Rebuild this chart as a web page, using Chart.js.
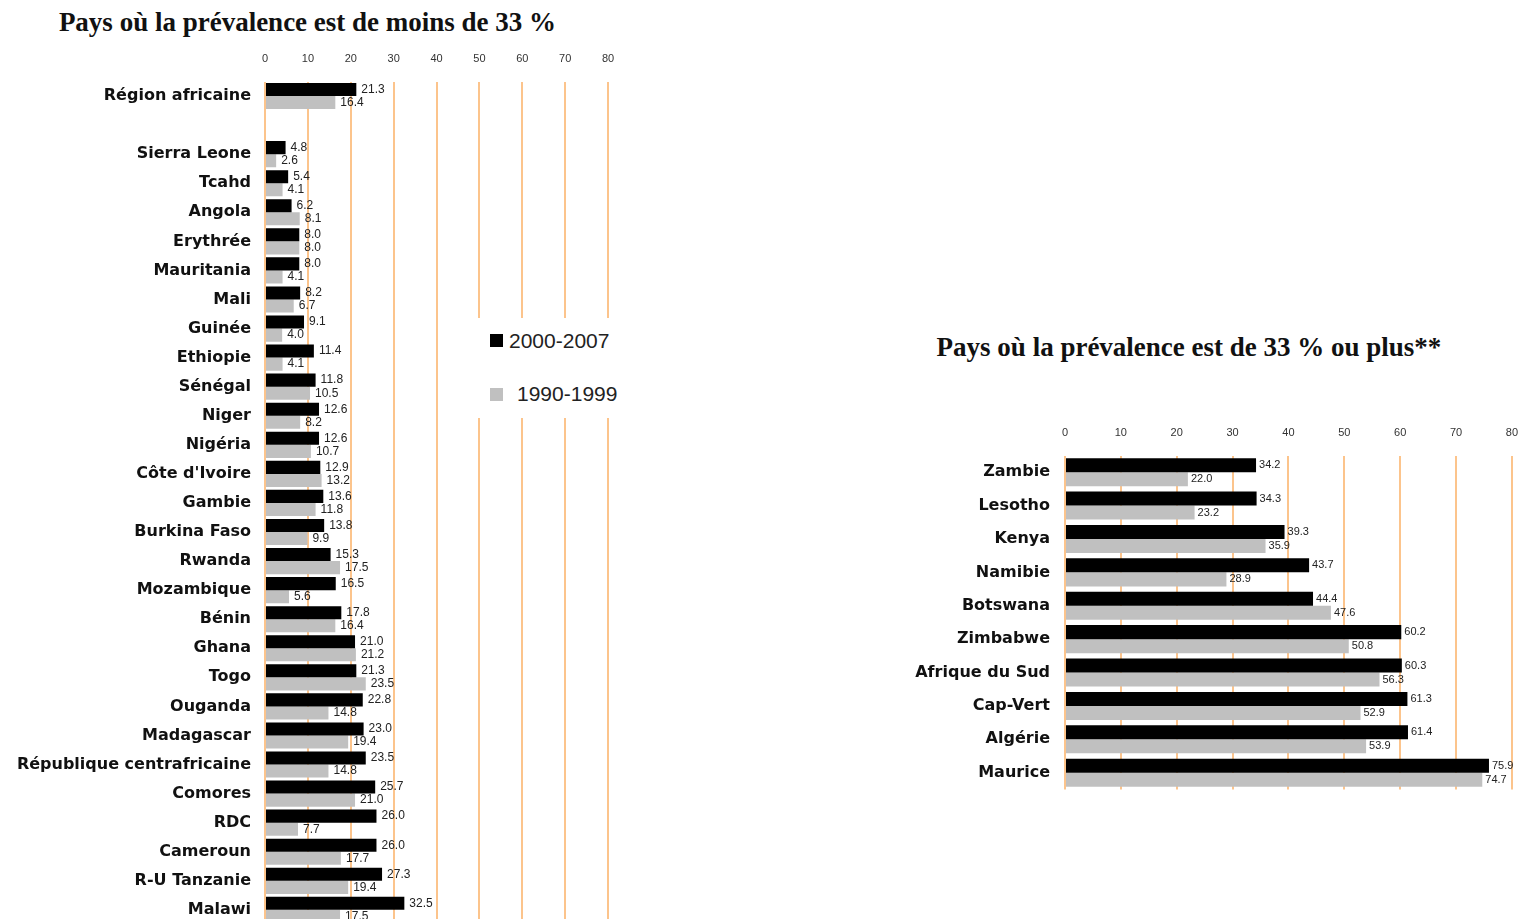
<!DOCTYPE html>
<html>
<head>
<meta charset="utf-8">
<script src="https://cdn.jsdelivr.net/npm/chart.js@4"></script>
<style>
  body { margin: 0; background: #fff; width: 1534px; height: 919px; overflow: hidden; position: relative; }
  canvas { position: absolute; }
  .title { position: absolute; font-family: "Liberation Serif", serif; font-weight: bold; font-size: 27px; line-height: 27px; color: #111; white-space: nowrap; text-align: center; }
  #legend { position: absolute; left: 476px; top: 318px; width: 150px; height: 100px; background: #fff; font-family: "Liberation Sans", Arial, sans-serif; font-size: 21px; color: #222; }
  #legend .sw { position: absolute; left: 14px; width: 13px; height: 13px; }
  #legend .tx { position: absolute; line-height: 21px; }
</style>
</head>
<body>
<div class="title" style="left:0;top:9px;width:615px;">Pays où la prévalence est de moins de 33 %</div>
<div class="title" style="left:880px;top:334px;width:618px;">Pays où la prévalence est de 33 % ou plus**</div>
<canvas id="leftChart" width="640" height="908" style="left:0;top:40px;"></canvas>
<canvas id="rightChart" width="654" height="414" style="left:880px;top:400px;"></canvas>
<div id="legend">
  <div class="sw" style="top:16px;background:#000;"></div><div class="tx" style="left:33px;top:12px;">2000-2007</div>
  <div class="sw" style="top:70px;background:#c0c0c0;"></div><div class="tx" style="left:41px;top:65px;">1990-1999</div>
</div>
<script>
// pays ou la prevalence est < 33 %
let lowCountries = ['Région africaine', '', 'Sierra Leone', 'Tcahd', 'Angola', 'Erythrée', 'Mauritania', 'Mali',
  'Guinée', 'Ethiopie', 'Sénégal', 'Niger', 'Nigéria', "Côte d'Ivoire", 'Gambie', 'Burkina Faso', 'Rwanda',
  'Mozambique', 'Bénin', 'Ghana', 'Togo', 'Ouganda', 'Madagascar', 'République centrafricaine', 'Comores',
  'RDC', 'Cameroun', 'R-U Tanzanie', 'Malawi'];
let low2000 = [21.3, null, 4.8, 5.4, 6.2, 8.0, 8.0, 8.2, 9.1, 11.4, 11.8, 12.6, 12.6, 12.9, 13.6, 13.8, 15.3,
  16.5, 17.8, 21.0, 21.3, 22.8, 23.0, 23.5, 25.7, 26.0, 26.0, 27.3, 32.5];
let low1990 = [16.4, null, 2.6, 4.1, 8.1, 8.0, 4.1, 6.7, 4.0, 4.1, 10.5, 8.2, 10.7, 13.2, 11.8, 9.9, 17.5,
  5.6, 16.4, 21.2, 23.5, 14.8, 19.4, 14.8, 21.0, 7.7, 17.7, 19.4, 17.5];

// pays ou la prevalence est >= 33 %
let highCountries = ['Zambie', 'Lesotho', 'Kenya', 'Namibie', 'Botswana', 'Zimbabwe', 'Afrique du Sud',
  'Cap-Vert', 'Algérie', 'Maurice'];
let high2000 = [34.2, 34.3, 39.3, 43.7, 44.4, 60.2, 60.3, 61.3, 61.4, 75.9];
let high1990 = [22.0, 23.2, 35.9, 28.9, 47.6, 50.8, 56.3, 52.9, 53.9, 74.7];

let xTicks = [0, 10, 20, 30, 40, 50, 60, 70, 80];

// petites etiquettes de valeur au bout des barres
let valueLabels = {
  id: 'valueLabels',
  afterDatasetsDraw(chart, args, opts) {
    let ctx = chart.ctx;
    ctx.save();
    ctx.font = opts.size + 'px "Liberation Sans", Arial, sans-serif';
    ctx.fillStyle = '#222';
    ctx.textBaseline = 'middle';
    chart.data.datasets.forEach((ds, i) => {
      chart.getDatasetMeta(i).data.forEach((bar, j) => {
        let v = ds.data[j];
        if (v == null) return;
        ctx.fillText(v.toFixed(1), bar.x + opts.offset, bar.y);
      });
    });
    ctx.restore();
  }
};

let makeChart = (id, labels, d2000, d1990, o) => {
  let ctx = document.getElementById(id).getContext('2d');
  return new Chart(ctx, {
    type: 'bar',
    data: {
      labels: labels,
      datasets: [
        { label: '2000-2007', data: d2000, backgroundColor: '#000', categoryPercentage: o.cat, barPercentage: 1 },
        { label: '1990-1999', data: d1990, backgroundColor: '#c0c0c0', categoryPercentage: o.cat, barPercentage: 1 }
      ]
    },
    options: {
      indexAxis: 'y',
      responsive: false,
      animation: false,
      layout: { padding: o.padding },
      plugins: {
        legend: { display: false },
        tooltip: { enabled: false },
        valueLabels: { offset: o.labelOffset, size: o.labelSize }
      },
      scales: {
        x: {
          position: 'top',
          min: 0, max: 80,
          afterBuildTicks: s => { s.ticks = xTicks.map(v => ({ value: v })); },
          afterFit: s => { s.height = o.xHeight; },
          grid: { color: '#fcc48c', lineWidth: 2, drawTicks: false },
          border: { display: false },
          ticks: { padding: o.tickPad, color: '#333', font: { family: '"Liberation Sans Narrow", "Liberation Sans", sans-serif', size: 11 } }
        },
        y: {
          afterFit: s => { s.width = o.yWidth; },
          grid: { display: false, drawTicks: false },
          border: { display: false },
          ticks: { padding: o.yPad, color: '#111', autoSkip: false, font: { family: '"DejaVu Sans", sans-serif', size: 16, weight: 'bold' } }
        }
      }
    },
    plugins: [valueLabels]
  });
};

makeChart('leftChart', lowCountries, low2000, low1990, {
  cat: 0.9, padding: { top: 0, right: 32, bottom: 8, left: 0 },
  xHeight: 41.5, tickPad: 16, yWidth: 265, yPad: 14, labelOffset: 5, labelSize: 12
});
makeChart('rightChart', highCountries, high2000, high1990, {
  cat: 0.84, padding: { top: 0, right: 8, bottom: 12, left: 0 },
  xHeight: 55.5, tickPad: 16, yWidth: 185, yPad: 15, labelOffset: 3, labelSize: 11
});
</script>
</body>
</html>
